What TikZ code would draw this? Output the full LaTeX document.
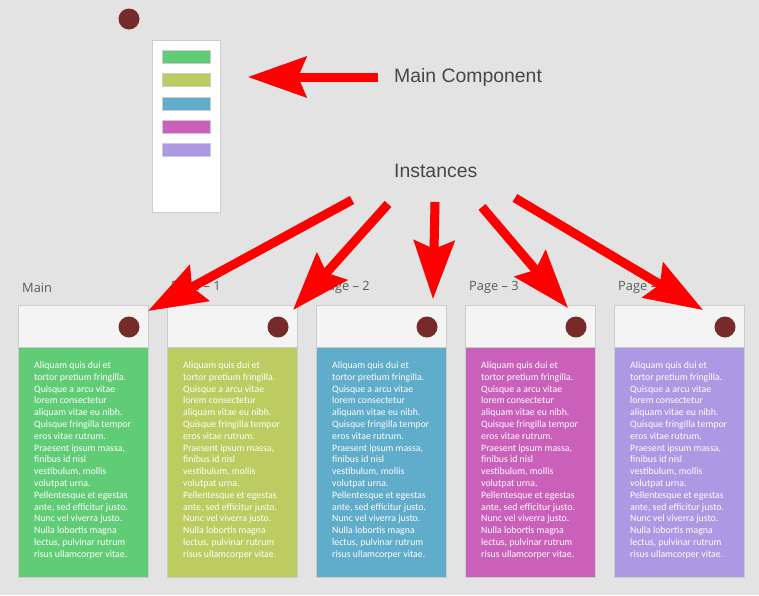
\documentclass[tikz,border=0pt]{standalone}
\usepackage{fontspec}
\setmainfont{Open Sans}
\newfontfamily\arialf{Liberation Sans}
\newfontfamily\cardf{Carlito}
\usetikzlibrary{arrows.meta}
\definecolor{bg}{HTML}{E3E3E3}
\definecolor{cgreen}{HTML}{60CC75}
\definecolor{colive}{HTML}{BCCC60}
\definecolor{cblue}{HTML}{60ACCB}
\definecolor{cmag}{HTML}{CB60BB}
\definecolor{clav}{HTML}{AC98E3}
\definecolor{dotred}{HTML}{772A2A}
\definecolor{hdr}{HTML}{F4F4F4}
\definecolor{edge}{HTML}{CCCCCC}
\definecolor{lbl}{HTML}{5A5A5A}
\definecolor{bigred}{HTML}{FF0000}
\tikzset{
  header/.style={draw=edge, fill=hdr, line width=1pt, minimum width=130pt, minimum height=42pt, anchor=north west, inner sep=0pt},
  body/.style={draw=edge, line width=1pt, minimum width=130pt, minimum height=230pt, anchor=north west, inner sep=0pt},
  bodytext/.style={anchor=north west, align=left, text=white, inner sep=0pt, font=\cardf\fontsize{9.8}{11.8}\selectfont},
  dotc/.style={circle, fill=dotred, minimum size=21pt, inner sep=0pt},
  cardlabel/.style={anchor=west, text=lbl, inner sep=0pt, font=\fontsize{12.8}{14}\selectfont},
  biglabel/.style={anchor=west, text=black!72, inner sep=0pt, font=\arialf\fontsize{19.4}{22}\selectfont},
  swatch/.style={draw=white!80!black, line width=0.5pt, minimum width=48pt, minimum height=13pt, anchor=north west, inner sep=0pt},
  redarrow/.style={draw=bigred, line width=9pt, -{Stealth[length=58pt, width=40pt, inset=8pt]}},
  shadarrow/.style={draw=black!45, opacity=0.5, line width=9pt, -{Stealth[length=58pt, width=40pt, inset=8pt]}, shift={(1pt,1pt)}}
}
\newcommand{\loremtext}{Aliquam quis dui et\\tortor pretium fringilla.\\Quisque a arcu vitae\\lorem consectetur\\aliquam vitae eu nibh.\\Quisque fringilla tempor\\eros vitae rutrum.\\Praesent ipsum massa,\\finibus id nisl\\vestibulum, mollis\\volutpat urna.\\Pellentesque et egestas\\ante, sed efficitur justo.\\Nunc vel viverra justo.\\Nulla lobortis magna\\lectus, pulvinar rutrum\\risus ullamcorper vitae.}
\begin{document}
\begin{tikzpicture}[x=1pt,y=-1pt]
\useasboundingbox[fill=bg] (0,0) rectangle (759,595);

% main component panel
\node[dotc] (topdot) at (129,19) {};
\node[draw=edge, fill=white, line width=1pt, minimum width=68pt, minimum height=172pt, anchor=north west, inner sep=0pt] (panel) at (152,40) {};
\node[swatch, fill=cgreen] (s1) at (162,50) {};
\node[swatch, fill=colive] (s2) at (162,73.3) {};
\node[swatch, fill=cblue] (s3) at (162,96.7) {};
\node[swatch, fill=cmag] (s4) at (162,120) {};
\node[swatch, fill=clav] (s5) at (162,143.3) {};

\node[biglabel] (mainc) at (394,77) {Main Component};
\node[biglabel] (inst) at (394,171) {Instances};

% cards
\foreach \i/\col/\lab in {0/cgreen/Main, 1/colive/Page – 1, 2/cblue/Page – 2, 3/cmag/Page – 3, 4/clav/Page – 4}{
  \pgfmathsetmacro{\xx}{18+149*\i}
  \node[cardlabel] (lab\i) at (\xx+4,287.5) {\lab};
  \node[header] (h\i) at (\xx,305) {};
  \node[dotc] (d\i) at (\xx+111,327) {};
  \node[body, fill=\col] (b\i) at (\xx,347) {};
  \node[bodytext] (t\i) at (\xx+16,361.5) {\loremtext};
}

% arrows
\coordinate (mstart) at (378,77);
\coordinate (mtip) at (248,77);
\coordinate (a1s) at (352,200);
\coordinate (a1e) at (148,311);
\coordinate (a2s) at (388,204);
\coordinate (a2e) at (293,310);
\coordinate (a3s) at (435,202);
\coordinate (a3e) at (433,299);
\coordinate (a4s) at (482,207);
\coordinate (a4e) at (568,308);
\coordinate (a5s) at (515,198);
\coordinate (a5e) at (703,310);

\foreach \s/\e in {mstart/mtip, a1s/a1e, a2s/a2e, a3s/a3e, a4s/a4e, a5s/a5e}{
  \draw[shadarrow] (\s) -- (\e);
}
\foreach \s/\e in {mstart/mtip, a1s/a1e, a2s/a2e, a3s/a3e, a4s/a4e, a5s/a5e}{
  \draw[redarrow] (\s) -- (\e);
}
\end{tikzpicture}
\end{document}
